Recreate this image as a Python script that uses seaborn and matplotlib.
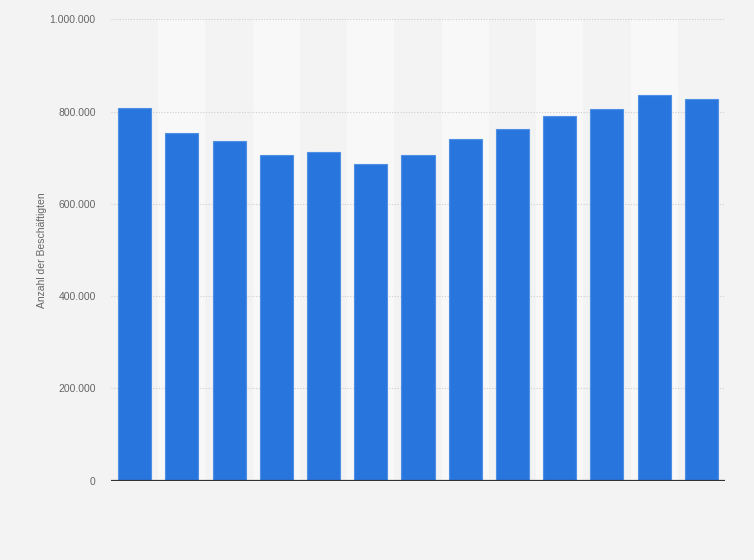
import matplotlib
matplotlib.use("Agg")
import matplotlib.pyplot as plt
import seaborn as sns
import pandas as pd
from matplotlib.ticker import FuncFormatter

# Kategorien (Beschriftungen sind im Original nicht sichtbar)
categories = [str(y) for y in range(2008, 2021)]
employees = [807000, 753000, 736000, 705000, 712000, 686000, 705000,
             740000, 762000, 790000, 805000, 835000, 827000]
y_ticks = [0, 200000, 400000, 600000, 800000, 1000000]

df = pd.DataFrame({"kategorie": categories, "beschaeftigte": employees})

sns.set_style("white")
plt.rcParams["font.family"] = ["Liberation Sans", "DejaVu Sans"]

bg = "#f3f3f3"
fig = plt.figure(figsize=(7.54, 5.60), dpi=100, facecolor=bg)
ax = fig.add_axes([0.1472, 0.1416, 0.8143, 0.8239])
ax.set_facecolor(bg)

# helle Spaltenbänder hinter jeder zweiten Kategorie
for i in range(len(categories)):
    if i % 2 == 1:
        ax.axvspan(i - 0.5, i + 0.5, color="#f8f8f8", zorder=0, lw=0)

sns.barplot(data=df, x="kategorie", y="beschaeftigte", color="#2876dd",
            width=0.7, saturation=1, edgecolor="#4f8fe6", linewidth=0.8,
            ax=ax, zorder=3)

ax.set_xlim(-0.5, len(categories) - 0.5)
ax.set_ylim(0, 1000000)
ax.set_yticks(y_ticks)
ax.yaxis.set_major_formatter(FuncFormatter(lambda v, p: f"{int(v):,}".replace(",", ".")))
ax.tick_params(axis="y", length=0, pad=11, labelsize=7.5, labelcolor="#666666")
ax.set_xticks([])
ax.set_xlabel("")
ax.set_ylabel("Anzahl der Beschäftigten", fontsize=7.5, color="#666666", labelpad=2)

for v in y_ticks[1:]:
    ax.axhline(v, color="#cfcfcf", lw=0.8, ls=(0, (1, 1.5)), zorder=1)
ax.axhline(0, color="#333333", lw=1.6, zorder=4)

for s in ax.spines.values():
    s.set_visible(False)

fig.savefig("out.png", dpi=100, facecolor=bg)
